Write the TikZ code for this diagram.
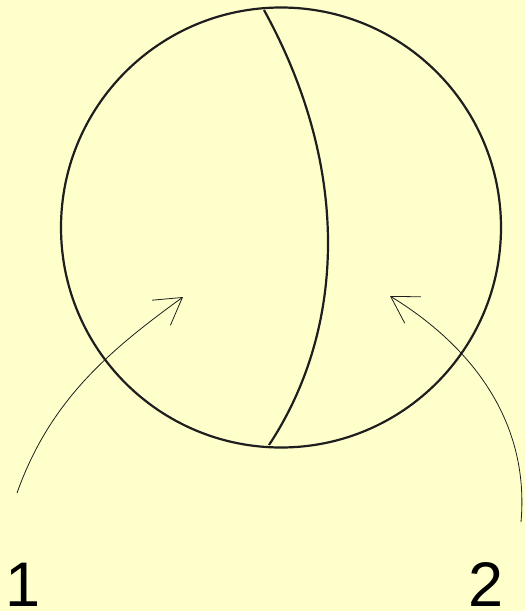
\documentclass[tikz,border=0pt]{standalone}
\usepackage{fontspec}
\setmainfont{Liberation Sans}
\usetikzlibrary{arrows.meta}
\definecolor{paper}{RGB}{255,255,204}
\definecolor{ink}{RGB}{30,30,30}
\tikzset{>={Straight Barb[length=26pt,width=31pt]},every node/.style={font=\fontsize{63}{63}\selectfont,inner sep=0pt},rim/.style={draw=ink,line width=2.2pt},pointer/.style={->,draw=ink,line width=.8pt}}

\begin{document}
\begin{tikzpicture}[x=1pt,y=-1pt]
\fill[paper] (0,0) rectangle (525,611);\useasboundingbox (0,0) rectangle (525,611);
\draw[rim] (281,227.5) circle(220);
\draw[rim] (264,10) .. controls (352,170) and (345,330) .. (269,445);
\node[anchor=base] (one) at (23,606){1};\node[anchor=base] (two) at (486,606){2};
\coordinate (tail1) at (17,493);\coordinate (tip1) at (183,297);
\coordinate (tail2) at (521,522);\coordinate (tip2) at (390,296);
\draw[pointer] (tail1) .. controls (50,400) and (110,350) .. (tip1);
\draw[pointer] (tail2) .. controls (530,420) and (470,345) .. (tip2);
\end{tikzpicture}
\end{document}
